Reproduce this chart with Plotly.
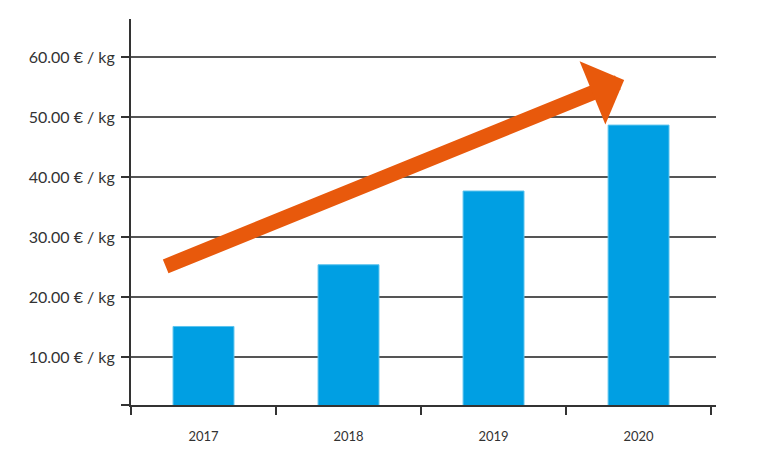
import plotly.graph_objects as go

years = ["2017", "2018", "2019", "2020"]
price_per_kg = [15.1, 25.4, 37.7, 48.7]
tick_values = [2, 10, 20, 30, 40, 50, 60]
tick_labels = ["", "10.00 € / kg", "20.00 € / kg", "30.00 € / kg",
               "40.00 € / kg", "50.00 € / kg", "60.00 € / kg"]

fig = go.Figure()
fig.add_trace(go.Bar(
    x=years, y=price_per_kg,
    marker=dict(color="#009FE3", line=dict(color="#5CC3EE", width=1)),
    width=0.42,
))

# trend arrow
fig.add_annotation(
    xref="paper", yref="paper", x=0.843, y=0.842,
    ax=-460, ay=187, text="", showarrow=True,
    arrowhead=1, arrowsize=0.76, arrowwidth=15, arrowcolor="#E8590C",
    standoff=0,
)

# page body has an 8px margin, so the figure is a bit smaller than the window
fig.update_layout(
    width=759, height=451,
    margin=dict(l=123, r=51, t=11, b=54),
    paper_bgcolor="white", plot_bgcolor="white",
    showlegend=False,
    font=dict(family="Lato, Open Sans, sans-serif", color="#333333"),
)
fig.update_xaxes(
    type="category", range=[-0.5, 3.534], automargin=False,
    showline=True, linecolor="#333333", linewidth=2,
    ticks="outside", tickson="boundaries", ticklen=8, tickwidth=2, tickcolor="#333333",
    showgrid=False, tickfont=dict(size=13, color="#333333"),
    ticklabelstandoff=18,
)
fig.update_yaxes(
    range=[2, 66.4], tickvals=tick_values, ticktext=tick_labels, automargin=False,
    showline=True, linecolor="#333333", linewidth=2,
    ticks="outside", ticklen=8, tickwidth=2, tickcolor="#333333",
    showgrid=True, gridcolor="#555555", gridwidth=1.6,
    zeroline=False, tickfont=dict(size=16, color="#333333"),
    ticklabelstandoff=3,
)

fig.write_html("out.html")
